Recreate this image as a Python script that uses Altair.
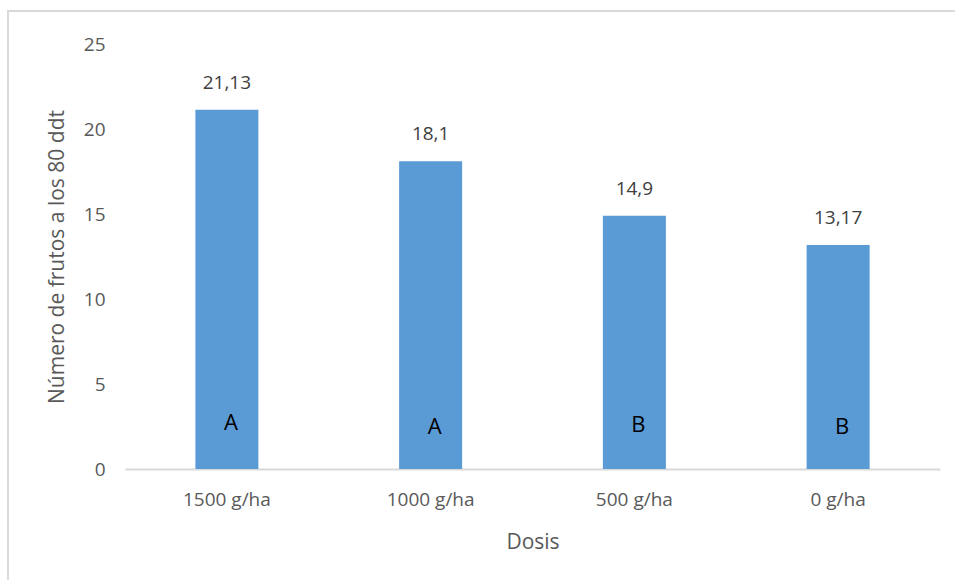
import altair as alt
import pandas as pd

# Number of fruits 80 days after transplant, by dose
dosis = ["1500 g/ha", "1000 g/ha", "500 g/ha", "0 g/ha"]
frutos = [21.13, 18.1, 14.9, 13.17]
etiquetas = ["21,13", "18,1", "14,9", "13,17"]
letras = ["A", "A", "B", "B"]
letra_y = [2.7, 2.45, 2.6, 2.45]

df = pd.DataFrame({
    "Dosis": dosis,
    "frutos": frutos,
    "etiqueta": etiquetas,
    "letra": letras,
    "letra_y": letra_y,
})

FONT = "Open Sans"

x = alt.X(
    "Dosis:N",
    sort=dosis,
    title="Dosis",
    scale=alt.Scale(paddingInner=0.69, paddingOuter=0.345),
    axis=alt.Axis(
        labelAngle=0, labelFontSize=19, labelColor="#595959", labelPadding=21,
        ticks=False, domainColor="#d9d9d9", domainWidth=2,
        titleFontSize=21, titleColor="#595959", titleFontWeight="normal",
        titlePadding=22,
    ),
)

y = alt.Y(
    "frutos:Q",
    title="Número de frutos a los 80 ddt",
    scale=alt.Scale(domain=[0, 25], nice=False),
    axis=alt.Axis(
        values=[0, 5, 10, 15, 20, 25], grid=False, domain=False, ticks=False,
        labelFontSize=19, labelColor="#595959", labelPadding=20,
        titleFontSize=21, titleColor="#595959", titleFontWeight="normal",
        titlePadding=16,
    ),
)

base = alt.Chart(df)

bars = base.mark_bar(color="#5b9bd5", size=63).encode(x=x, y=y)

values = base.mark_text(
    baseline="bottom", dy=-17, fontSize=19, color="#404040", font=FONT
).encode(x=alt.X("Dosis:N", sort=dosis), y="frutos:Q", text="etiqueta:N")

letters = base.mark_text(
    baseline="middle", fontSize=22, color="#000000", font=FONT, dx=4
).encode(x=alt.X("Dosis:N", sort=dosis), y="letra_y:Q", text="letra:N")

# thin outer frame around the figure
frame = base.mark_rect(
    fill="transparent", stroke="#d9d9d9", strokeWidth=2
).encode(
    x=alt.value(-117), x2=alt.value(840),
    y=alt.value(-33), y2=alt.value(560),
)

chart = (
    alt.layer(frame, bars, values, letters)
    .properties(
        width=815, height=425,
        autosize=alt.AutoSizeParams(type="none"),
        padding={"left": 125, "top": 44, "right": 15, "bottom": 111},
        background="white",
    )
    .configure(font=FONT)
    .configure_view(strokeWidth=0, stroke="transparent")
)

chart.save("out.html", embed_options={"renderer": "svg", "actions": False})
